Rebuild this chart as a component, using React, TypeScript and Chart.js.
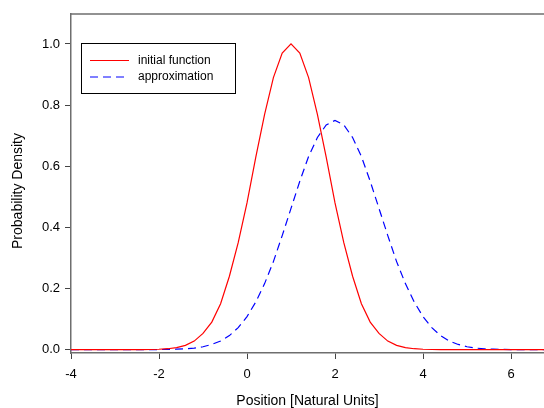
import React, { useEffect, useRef } from "react";
import { Chart, registerables } from "chart.js";

Chart.register(...registerables);

// Positions (natural units)
const xs = [
  -4.0, -3.8, -3.6, -3.4, -3.2, -3.0, -2.8, -2.6, -2.4, -2.2,
  -2.0, -1.8, -1.6, -1.4, -1.2, -1.0, -0.8, -0.6, -0.4, -0.2,
  0.0, 0.2, 0.4, 0.6, 0.8, 1.0, 1.2, 1.4, 1.6, 1.8,
  2.0, 2.2, 2.4, 2.6, 2.8, 3.0, 3.2, 3.4, 3.6, 3.8,
  4.0, 4.2, 4.4, 4.6, 4.8, 5.0, 5.2, 5.4, 5.6, 5.8,
  6.0, 6.2, 6.4, 6.6, 6.8,
];

const initialFunction = [
  0, 0, 0, 0, 0, 0, 0, 0, 0.0002, 0.0005,
  0.0013, 0.003, 0.0068, 0.014, 0.028, 0.053, 0.09, 0.15, 0.24, 0.35,
  0.48, 0.63, 0.77, 0.89, 0.97, 1.0, 0.97, 0.89, 0.77, 0.63,
  0.48, 0.35, 0.24, 0.15, 0.09, 0.053, 0.028, 0.014, 0.0068, 0.003,
  0.0013, 0.0005, 0.0002, 0, 0, 0, 0, 0, 0, 0,
  0, 0, 0, 0, 0,
];

const approximation = [
  0, 0, 0, 0, 0, 0, 0, 0, 0, 0,
  0.0003, 0.0007, 0.0014, 0.0027, 0.005, 0.0095, 0.017, 0.028, 0.046, 0.072,
  0.108, 0.156, 0.216, 0.288, 0.373, 0.462, 0.551, 0.632, 0.694, 0.735,
  0.75, 0.735, 0.694, 0.632, 0.551, 0.462, 0.373, 0.288, 0.216, 0.156,
  0.108, 0.072, 0.046, 0.028, 0.017, 0.0095, 0.005, 0.0027, 0.0014, 0.0007,
  0.0003, 0, 0, 0, 0,
];

const xTicks = [-4, -2, 0, 2, 4, 6];
const yTicks = [0, 0.2, 0.4, 0.6, 0.8, 1.0];
const xTitle = "Position [Natural Units]";
const yTitle = "Probability Density";
const seriesLabels = ["initial function", "approximation"];

const FONT = "'Liberation Sans', Arial, Helvetica, sans-serif";

const decorPlugin = {
  id: "decor",
  afterDraw(chart: any) {
    const ctx = chart.ctx;
    const ca = chart.chartArea;
    ctx.save();
    // top frame line
    ctx.strokeStyle = "#6e6e6e";
    ctx.lineWidth = 1.5;
    ctx.beginPath();
    ctx.moveTo(ca.left, ca.top);
    ctx.lineTo(ca.right, ca.top);
    ctx.stroke();

    // axis titles
    ctx.fillStyle = "#000";
    ctx.font = `14px ${FONT}`;
    ctx.textAlign = "center";
    ctx.textBaseline = "middle";
    ctx.fillText(xTitle, (ca.left + ca.right) / 2, 401);
    ctx.save();
    ctx.translate(18, 191);
    ctx.rotate(-Math.PI / 2);
    ctx.fillText(yTitle, 0, 0);
    ctx.restore();

    // legend
    const bx = 81, by = 43, bw = 154, bh = 50;
    ctx.fillStyle = "#fff";
    ctx.fillRect(bx, by, bw, bh);
    ctx.strokeStyle = "#000";
    ctx.lineWidth = 1;
    ctx.strokeRect(bx + 0.5, by + 0.5, bw, bh);
    const rows = [
      { y: 60.5, color: "#ff0000", dash: [] as number[] },
      { y: 77, color: "#0000ff", dash: [8, 5] },
    ];
    rows.forEach((r, i) => {
      ctx.strokeStyle = r.color;
      ctx.lineWidth = 1;
      ctx.setLineDash(r.dash);
      ctx.beginPath();
      ctx.moveTo(90, r.y);
      ctx.lineTo(129, r.y);
      ctx.stroke();
      ctx.setLineDash([]);
      ctx.fillStyle = "#000";
      ctx.font = `12px ${FONT}`;
      ctx.textAlign = "left";
      ctx.textBaseline = "middle";
      ctx.fillText(seriesLabels[i], 138, r.y);
    });
    ctx.restore();
  },
};

export default function App() {
  const ref = useRef<HTMLCanvasElement | null>(null);

  useEffect(() => {
    if (!ref.current) return;
    const chart = new Chart(ref.current, {
      type: "line",
      data: {
        datasets: [
          {
            label: seriesLabels[0],
            data: xs.map((x, i) => ({ x, y: initialFunction[i] })),
            borderColor: "#ff0000",
            borderWidth: 1.2,
            pointRadius: 0,
            tension: 0,
            fill: false,
          },
          {
            label: seriesLabels[1],
            data: xs.map((x, i) => ({ x, y: approximation[i] })),
            borderColor: "#0000ff",
            borderWidth: 1.2,
            borderDash: [8, 5],
            pointRadius: 0,
            tension: 0,
            fill: false,
          },
        ],
      },
      options: {
        animation: false,
        responsive: false,
        devicePixelRatio: 1,
        layout: { padding: { top: 14, right: 0, left: 0, bottom: 0 } },
        plugins: {
          legend: { display: false },
          tooltip: { enabled: false },
          title: { display: false },
        },
        scales: {
          x: {
            type: "linear",
            min: -4,
            max: 6.75,
            afterBuildTicks: (s: any) => {
              s.ticks = xTicks.map((v) => ({ value: v }));
            },
            afterFit: (s: any) => {
              s.height = 55;
            },
            ticks: {
              font: { family: FONT, size: 13 },
              color: "#000",
              padding: 8,
              maxRotation: 0,
              autoSkip: false,
              callback: (v: any) => String(v),
            },
            grid: {
              drawOnChartArea: false,
              drawTicks: true,
              tickLength: 6,
              color: "#444",
            },
            border: { color: "#6e6e6e", width: 1.5 },
          },
          y: {
            type: "linear",
            min: -0.011,
            max: 1.098,
            afterBuildTicks: (s: any) => {
              s.ticks = yTicks.map((v) => ({ value: v }));
            },
            afterFit: (s: any) => {
              s.width = 71;
            },
            ticks: {
              font: { family: FONT, size: 13 },
              color: "#000",
              padding: 5,
              autoSkip: false,
              callback: (v: any) => Number(v).toFixed(1),
            },
            grid: {
              drawOnChartArea: false,
              drawTicks: true,
              tickLength: 6,
              color: "#444",
            },
            border: { color: "#6e6e6e", width: 1.5 },
          },
        },
      },
      plugins: [decorPlugin],
    });
    return () => chart.destroy();
  }, []);

  return (
    <div style={{ position: "absolute", left: 0, top: 0, width: 544, height: 408, background: "#fff" }}>
      <canvas ref={ref} width={544} height={408} style={{ width: 544, height: 408, display: "block" }} />
    </div>
  );
}
